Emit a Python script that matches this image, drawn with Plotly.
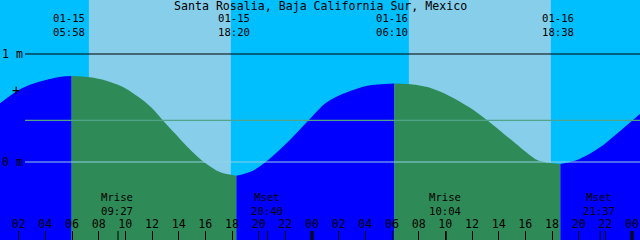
import plotly.graph_objects as go

# ---- data ----
title = "Santa Rosalia, Baja California Sur, Mexico"
day = "2024-01-"

# tide curve samples (time, metres), split at highs/lows
rise1_t = ["15 00:36", "15 02:08", "15 03:40", "15 05:11", "15 05:58"]
rise1_h = [0.543, 0.676, 0.747, 0.790, 0.796]
fall1_t = ["15 05:58", "15 07:20", "15 08:34", "15 09:47", "15 11:01", "15 11:56", "15 12:50",
           "15 13:46", "15 14:41", "15 15:55", "15 17:08", "15 18:20"]
fall1_h = [0.796, 0.784, 0.753, 0.697, 0.599, 0.506, 0.383, 0.259, 0.136, -0.003, -0.096, -0.127]
rise2_t = ["15 18:20", "15 19:35", "15 20:30", "15 22:02", "15 23:43", "16 01:05", "16 02:37",
           "16 04:09", "16 06:10"]
rise2_h = [-0.127, -0.080, -0.003, 0.167, 0.383, 0.552, 0.645, 0.707, 0.728]
fall2_t = ["16 06:10", "16 07:13", "16 08:44", "16 10:16", "16 11:48", "16 13:11", "16 14:52",
           "16 16:24", "16 17:01", "16 18:38"]
fall2_h = [0.728, 0.722, 0.691, 0.614, 0.506, 0.383, 0.213, 0.059, 0.012, -0.019]
rise3_t = ["16 18:38", "16 20:04", "16 21:36", "16 23:08", "17 00:36"]
rise3_h = [-0.019, 0.028, 0.136, 0.290, 0.444]

tide_ev_t = ["15 05:58", "15 18:20", "16 06:10", "16 18:38"]
tide_ev_date = ["01-15", "01-15", "01-16", "01-16"]
tide_ev_time = ["05:58", "18:20", "06:10", "18:38"]

sunrise_t = ["15 07:16", "16 07:16"]
sunset_t = ["15 17:55", "16 17:55"]

moon_t = ["15 09:27", "15 20:40", "16 10:04", "16 21:37"]
moon_name = ["Mrise", "Mset", "Mrise", "Mset"]
moon_time = ["09:27", "20:40", "10:04", "21:37"]

midnight_t = ["16 00:00", "17 00:00"]
msl = 0.386
y_marks = [0, 1]
y_mark_text = ["0 m", "1 m"]
plus_level = 0.667

x_range = ["15 00:36", "17 00:36"]
y_range = [-0.7222, 1.5]

FLOOD = "#0000ff"
EBB = "#2e8b57"
NIGHT = "#00bfff"
DAY = "#87ceeb"
FONT = "DejaVu Sans Mono"


def d(s):
    return day + s


def ds(lst):
    return [d(s) for s in lst]


fig = go.Figure()

segments = [(rise1_t, rise1_h, FLOOD), (fall1_t, fall1_h, EBB), (rise2_t, rise2_h, FLOOD),
            (fall2_t, fall2_h, EBB), (rise3_t, rise3_h, FLOOD)]
for t, h, c in segments:
    fig.add_trace(go.Scatter(x=[d(t[0]), d(t[-1])], y=[-1, -1], mode="lines",
                             line=dict(width=0), hoverinfo="skip", showlegend=False))
    fig.add_trace(go.Scatter(x=ds(t), y=h, mode="lines", fill="tonexty", fillcolor=c,
                             line=dict(width=0, shape="spline", smoothing=0.9, color=c),
                             hoverinfo="skip", showlegend=False))

shapes = []
for a, b in zip(sunrise_t, sunset_t):
    shapes.append(dict(type="rect", xref="x", yref="paper", x0=d(a), x1=d(b), y0=0, y1=1,
                       fillcolor=DAY, line=dict(width=0), layer="below"))
# level lines
shapes.append(dict(type="line", xref="paper", yref="y", x0=25 / 640, x1=1, y0=1, y1=1,
                   line=dict(color="black", width=1.2), layer="above"))
shapes.append(dict(type="line", xref="paper", yref="y", x0=25 / 640, x1=1, y0=msl, y1=msl,
                   line=dict(color="#4fa48a", width=1.2), layer="above"))
shapes.append(dict(type="line", xref="paper", yref="y", x0=25 / 640, x1=1, y0=0, y1=0,
                   line=dict(color="#8fcfe6", width=1.2), layer="above"))
# moon ticks and midnight ticks
for t in moon_t:
    shapes.append(dict(type="line", xref="x", yref="paper", x0=d(t), x1=d(t), y0=0, y1=9 / 240,
                       line=dict(color="black", width=1), layer="above"))
for t in midnight_t:
    shapes.append(dict(type="line", xref="x", yref="paper", x0=d(t), x1=d(t), y0=0, y1=9 / 240,
                       line=dict(color="black", width=3), layer="above"))

ann = []
fs = 11.6
ann.append(dict(text=title, x=0.5, y=1 - 5.5 / 240, xref="paper", yref="paper",
                xanchor="center", yanchor="middle",
                showarrow=False, font=dict(family=FONT, size=fs, color="black")))
for t, dt, tm in zip(tide_ev_t, tide_ev_date, tide_ev_time):
    ann.append(dict(text=dt + "<br>" + tm, x=d(t), y=1 - 25.5 / 240, xref="x", yref="paper",
                    xanchor="center", yanchor="middle", xshift=-2.5, showarrow=False,
                    font=dict(family=FONT, size=10.6, color="black")))
for t, nm, tm in zip(moon_t, moon_name, moon_time):
    ann.append(dict(text=nm + "<br>" + tm, x=d(t), y=1 - 204 / 240, xref="x", yref="paper",
                    xanchor="center", yanchor="middle", xshift=-1, showarrow=False,
                    font=dict(family=FONT, size=10.6, color="black")))
ann.append(dict(text="+", x=16 / 640, y=plus_level, xref="paper", yref="y",
                xanchor="center", yanchor="middle",
                showarrow=False, font=dict(family=FONT, size=14, color="black")))

fig.update_layout(
    width=640, height=240, autosize=False,
    margin=dict(l=0, r=0, t=0, b=0, pad=0),
    paper_bgcolor=NIGHT, plot_bgcolor=NIGHT,
    shapes=shapes, annotations=ann,
    xaxis=dict(type="date", range=ds(x_range), tick0=d("15 00:00"), dtick=7200000,
               tickformat="%H", ticks="inside", ticklen=9, tickcolor="black", tickwidth=1,
               ticklabelposition="inside", ticklabeloverflow="allow",
               showgrid=False, zeroline=False, showline=False,
               tickfont=dict(family=FONT, size=fs, color="black")),
    yaxis=dict(range=y_range, tickvals=y_marks, ticktext=y_mark_text, ticks="",
               anchor="free", position=23 / 640, side="left", ticklabelposition="outside",
               ticklabelstandoff=0,
               showgrid=False, zeroline=False, showline=False,
               tickfont=dict(family=FONT, size=fs, color="black")),
)

fig.write_html("out.html")
